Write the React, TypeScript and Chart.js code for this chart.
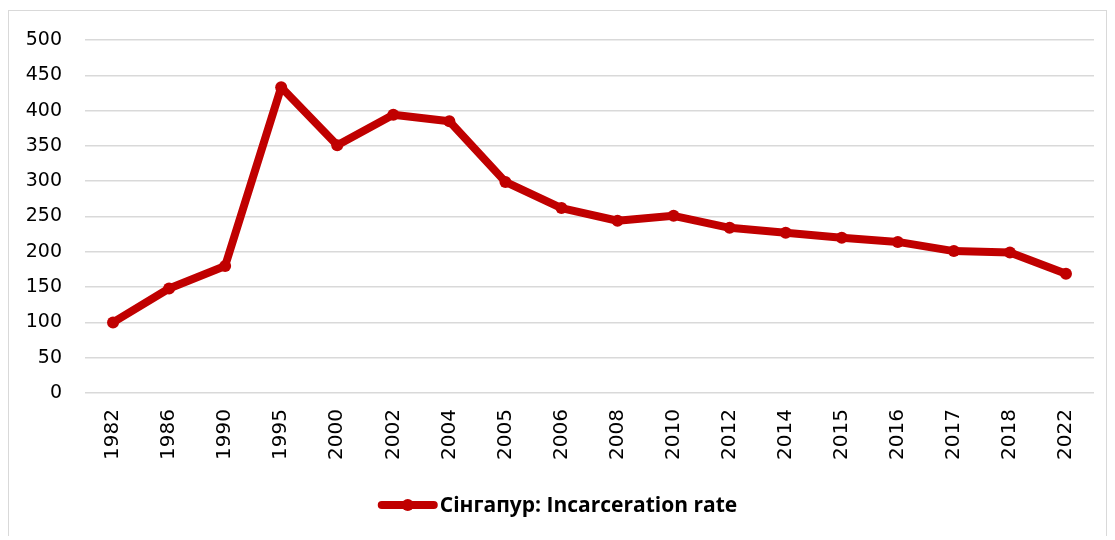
import React, { useEffect, useRef } from "react";
import { Chart, registerables } from "chart.js";

Chart.register(...registerables);

const years = ["1982", "1986", "1990", "1995", "2000", "2002", "2004", "2005", "2006", "2008", "2010", "2012", "2014", "2015", "2016", "2017", "2018", "2022"];
const rates = [100, 148, 180, 433, 351, 394, 385, 299, 262, 244, 251, 234, 227, 220, 214, 201, 199, 169];
const seriesLabel = "Сінгапур: Incarceration rate";
const lineColor = "#c00000";

const legendPlugin = {
  id: "customLegend",
  afterDraw(chart: any) {
    const ctx = chart.ctx;
    ctx.save();
    ctx.font = "700 21px 'Open Sans'";
    const tw = ctx.measureText(seriesLabel).width;
    const lineW = 60;
    const gap = 2;
    const total = lineW + gap + tw;
    const x0 = (chart.width - total) / 2;
    const y = 494;
    ctx.strokeStyle = lineColor;
    ctx.lineWidth = 8;
    ctx.lineCap = "round";
    ctx.beginPath();
    ctx.moveTo(x0 + 4, y);
    ctx.lineTo(x0 + lineW - 4, y);
    ctx.stroke();
    ctx.fillStyle = lineColor;
    ctx.beginPath();
    ctx.arc(x0 + lineW / 2, y, 6, 0, Math.PI * 2);
    ctx.fill();
    ctx.fillStyle = "#000";
    ctx.textBaseline = "middle";
    ctx.textAlign = "left";
    ctx.fillText(seriesLabel, x0 + lineW + gap, y + 1);
    ctx.restore();
  },
};

export default function App() {
  const ref = useRef<HTMLCanvasElement>(null);
  useEffect(() => {
    if (!ref.current) return;
    const chart = new Chart(ref.current, {
      type: "line",
      data: {
        labels: years,
        datasets: [
          {
            label: seriesLabel,
            data: rates,
            borderColor: lineColor,
            backgroundColor: lineColor,
            borderWidth: 8,
            pointRadius: 6,
            pointBackgroundColor: lineColor,
            pointBorderWidth: 0,
            tension: 0,
            borderJoinStyle: "round",
            borderCapStyle: "round",
          },
        ],
      },
      options: {
        animation: false,
        responsive: false,
        layout: { padding: { top: 29, right: 12, bottom: 0, left: 0 } },
        plugins: { legend: { display: false }, tooltip: { enabled: false } },
        scales: {
          x: {
            offset: true,
            grid: { display: false },
            border: { display: false },
            ticks: {
              color: "#000",
              font: { family: "DejaVu Sans", size: 20 },
              maxRotation: 90,
              minRotation: 90,
              padding: 8,
            },
            afterFit(scale: any) {
              scale.height = 144;
              scale.paddingLeft = 0;
              scale.paddingRight = 0;
            },
          },
          y: {
            min: 0,
            max: 500,
            grid: { color: "#d9d9d9", lineWidth: 1.5, drawTicks: false },
            border: { display: false },
            ticks: {
              stepSize: 50,
              color: "#000",
              font: { family: "DejaVu Sans", size: 19 },
              padding: 23,
            },
            afterFit(scale: any) {
              scale.width = 76;
              scale.paddingTop = 0;
              scale.paddingBottom = 0;
            },
          },
        },
      },
      plugins: [legendPlugin],
    });
    return () => chart.destroy();
  }, []);
  return (
    <div
      style={{
        position: "relative",
        top: 2,
        width: 1097,
        height: 526,
        border: "1px solid #d9d9d9",
        background: "#fff",
      }}
    >
      <canvas ref={ref} width={1097} height={526} style={{ display: "block" }} />
    </div>
  );
}
